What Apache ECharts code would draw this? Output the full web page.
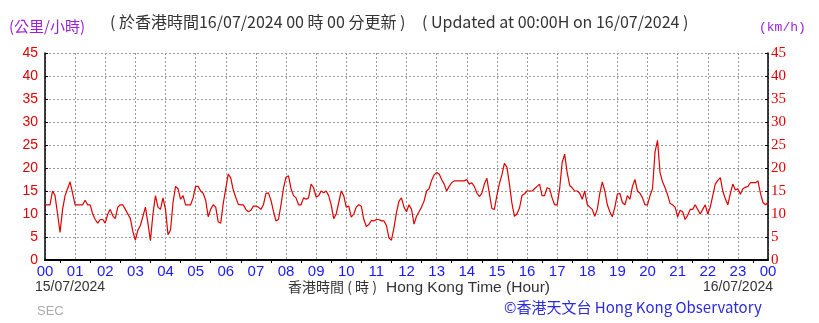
<!DOCTYPE html>
<html><head><meta charset="utf-8">
<script src="https://cdn.jsdelivr.net/npm/echarts@6/dist/echarts.min.js"></script>
<style>html,body{margin:0;padding:0;background:#fff}#c{width:819px;height:323px}</style>
</head><body><div id="c"></div>
<script>
// Wind speed (km/h) every 5 minutes from 00:00 15/07 to 00:00 16/07
const speeds = [
 12,12,12,15,14,10,6,11,14,15.5,17,14.5,
 12,12,12,12,13,12,12,10,8.8,8,8.8,8.8,
 8,10,11,9.6,9,11.5,12,12,11,10,9,6.2,
 4.3,6.5,7.5,9.5,11.5,8,4.2,10,14,11.5,11,13.5,
 11,5.5,6.5,12.5,16,15.5,13.2,14,12,12,12,13.5,
 16,16,15,14.5,13,9.4,11,12,11.5,8.3,8,12.3,
 15.5,18.7,17.8,15.2,13.6,12.1,12,12,11,10.5,10.8,11.7,
 11.7,11.5,11,12,14.5,14.6,13,10.6,8.5,8.8,12,15.6,
 18,18.3,15.5,14,13.5,12,12,13.5,13.2,13.5,16.5,15.7,
 13.7,14,15,14.6,15,14,12,9,10,12.5,15,14,
 11.5,11.7,9.3,10,11.5,12,11.7,8.8,7.3,7.7,8.6,8.5,
 8.8,8.8,8.5,8.5,7.5,4.8,4.3,7,10.3,12.8,13.5,11.5,
 10.5,12,11,7.8,9.5,10.5,11.5,12.8,15,15.5,17.3,18.5,
 19,18.7,17.5,16.5,15,16,16.8,17.2,17.2,17.2,17.2,17.2,
 17.5,16.5,16.8,16,14.6,13.8,14.5,16.5,17.8,14.5,11.2,11,
 14,16.6,18.5,21,20.2,16.5,12.3,9.5,10,11.3,14,14.4,
 15,15,15,15.5,16,16.5,14,14,15.7,15.5,13.5,12,
 12,15.5,21.2,23,19,16.2,15.7,15,15,14.5,13.2,15,
 12.1,11.5,11,9.5,11,14.5,17,15,12,10.5,9.4,11.5,
 14.3,14.5,12.5,12,14,13.2,16,17.5,15,14.5,13.5,12,
 12,14,15.5,23.5,26,19,17,15.7,14.2,12.3,12,11.5,
 9.4,10.8,10.5,8.8,9.7,11,11,12,11,10,11,12,
 10,11.5,14,16.5,17.3,17.9,15,13.3,12,14.5,16.5,15.2,
 15.5,14.3,15.5,15.8,16,16.8,16.8,16.8,17.2,14.5,12.5,12,
 12.5
];
const hourLabels = ['00','01','02','03','04','05','06','07','08','09','10','11','12','13','14','15','16','17','18','19','20','21','22','23','00'];
const yTicks = [0,5,10,15,20,25,30,35,40,45];
const stepMinutes = 5;

const data = speeds.map((v, i) => [i * stepMinutes / 60, v]);

const chart = echarts.init(document.getElementById('c'), null, {renderer: 'canvas'});
const gridColor = '#9a9a9a';
chart.setOption({
  animation: false,
  backgroundColor: '#fff',
  grid: {left: 45, right: 51, top: 53, bottom: 63},
  xAxis: {
    type: 'value', min: 0, max: 24, interval: 1,
    axisLine: {show: true, lineStyle: {color: '#000', width: 2}},
    axisTick: {show: false},
    minorTick: {show: true, splitNumber: 2, length: 3, lineStyle: {color: '#000'}},
    axisLabel: {color: '#1a1aff', fontSize: 15, fontFamily: 'Liberation Sans', margin: 4,
      formatter: v => hourLabels[Math.round(v)]},
    splitLine: {show: true, lineStyle: {color: gridColor, type: [2, 2], width: 1}}
  },
  yAxis: [{
    type: 'value', min: yTicks[0], max: yTicks[yTicks.length-1], interval: 5,
    axisLine: {show: true, lineStyle: {color: '#000', width: 1.5}},
    axisTick: {show: true, length: 3, inside: true, lineStyle: {color: '#000'}},
    axisLabel: {color: '#e00000', fontSize: 14, fontFamily: 'Liberation Sans', margin: 7},
    splitLine: {show: true, lineStyle: {color: gridColor, type: [2, 2], width: 1}}
  }, {
    type: 'value', position: 'right', min: yTicks[0], max: yTicks[yTicks.length-1], interval: 5,
    axisLine: {show: true, lineStyle: {color: '#000', width: 1.5}},
    axisTick: {show: true, length: 3, inside: true, lineStyle: {color: '#000'}},
    axisLabel: {color: '#e00000', fontSize: 15, fontFamily: 'Liberation Serif', margin: 3},
    splitLine: {show: false}
  }],
  series: [{
    type: 'line', data: data, showSymbol: false, symbol: 'none',
    lineStyle: {color: '#e00000', width: 1.2}, z: 5
  }],
  graphic: [
    {type: 'text', left: 110, top: 14, style: {text: '( 於香港時間16/07/2024 00 時 00 分更新 )', fill: '#333', font: '16px "Noto Sans CJK TC"'}},
    {type: 'text', left: 422, top: 14, style: {text: '( Updated at 00:00H on 16/07/2024 )', fill: '#333', font: '16px "Noto Sans CJK TC"'}},
    {type: 'text', left: 9, top: 19, style: {text: '(公里/小時)', fill: '#9b1fd6', font: '15px "Noto Sans CJK TC"'}},
    {type: 'text', left: 759, top: 21, style: {text: '(km/h)', fill: '#9b1fd6', font: '13px "Liberation Mono"'}},
    {type: 'text', left: 35, top: 280, style: {text: '15/07/2024', fill: '#333', font: '14px "Liberation Sans"'}},
    {type: 'text', right: 46, top: 280, style: {text: '16/07/2024', fill: '#333', font: '14px "Liberation Sans"'}},
    {type: 'text', left: 288, top: 280, style: {text: '香港時間 ( 時 )', fill: '#333', font: '14px "Noto Sans CJK TC"'}},
    {type: 'text', left: 386, top: 280, style: {text: 'Hong Kong Time (Hour)', fill: '#333', font: '15.5px "Liberation Sans"'}},
    {type: 'text', left: 37, top: 305, style: {text: 'SEC', fill: '#aaa', font: '13px "Liberation Sans"'}},
    {type: 'text', left: 504, top: 300, style: {text: '©香港天文台 Hong Kong Observatory', fill: '#2a2ae0', font: '15px "Noto Sans CJK TC"'}}
  ]
});
</script></body></html>
